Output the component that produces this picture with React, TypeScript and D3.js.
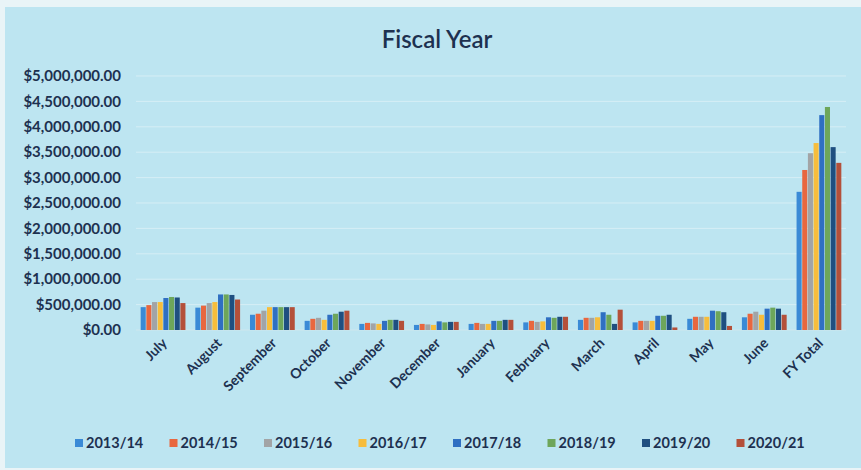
import React from "react";
import * as d3 from "d3";

const categories = ["July", "August", "September", "October", "November", "December", "January", "February", "March", "April", "May", "June", "FY Total"];
const seriesNames = ["2013/14", "2014/15", "2015/16", "2016/17", "2017/18", "2018/19", "2019/20", "2020/21"];
const seriesColors = ["#3a8ad6", "#e8673f", "#a2a4a6", "#f7bd3c", "#2f6fc2", "#6ea65a", "#1f4f80", "#b4503a"];

const s2013 = [450000, 440000, 300000, 180000, 120000, 100000, 120000, 150000, 200000, 150000, 220000, 250000, 2720000];
const s2014 = [490000, 480000, 320000, 220000, 140000, 120000, 140000, 180000, 240000, 180000, 260000, 320000, 3150000];
const s2015 = [550000, 530000, 380000, 240000, 130000, 110000, 120000, 160000, 240000, 180000, 260000, 360000, 3480000];
const s2016 = [550000, 550000, 450000, 200000, 120000, 100000, 120000, 170000, 250000, 180000, 260000, 300000, 3680000];
const s2017 = [630000, 700000, 450000, 300000, 180000, 170000, 180000, 250000, 350000, 280000, 380000, 420000, 4230000];
const s2018 = [650000, 700000, 450000, 320000, 200000, 150000, 180000, 240000, 300000, 280000, 370000, 440000, 4390000];
const s2019 = [640000, 690000, 450000, 360000, 200000, 160000, 200000, 260000, 120000, 300000, 350000, 420000, 3600000];
const s2020 = [530000, 600000, 450000, 380000, 180000, 160000, 200000, 260000, 400000, 50000, 80000, 300000, 3290000];
const seriesValues = [s2013, s2014, s2015, s2016, s2017, s2018, s2019, s2020];

const yTicks = [0, 500000, 1000000, 1500000, 2000000, 2500000, 3000000, 3500000, 4000000, 4500000, 5000000];

const W = 861, H = 470;
const plot = { left: 136, right: 846, top: 76, bottom: 330 };

export default function App() {
  const x = d3.scaleBand<string>().domain(categories).range([plot.left, plot.right]).paddingInner(0.17).paddingOuter(0.08);
  const xi = d3.scaleBand<string>().domain(seriesNames).range([0, x.bandwidth()]).padding(0);
  const y = d3.scaleLinear().domain([0, 5000000]).range([plot.bottom, plot.top]);
  const fmt = (v: number) => "$" + d3.format(",.2f")(v);
  const font = "Lato, 'Open Sans', sans-serif";
  const textColor = "#1d3150";
  const legendStart = 75, legendStep = 94.5;

  return (
    <svg width={W} height={H} style={{ position: "fixed", left: 0, top: 0, display: "block" }} fontFamily={font}>
      <rect x={0} y={0} width={W} height={H} fill="#e9f4f7" />
      <rect x={5} y={7} width={W - 5} height={H - 9} fill="#bde5f1" />
      <text x={437} y={48} textAnchor="middle" fontSize={24} fill={textColor} fontWeight={600}>Fiscal Year</text>
      {yTicks.map((t) => (
        <g key={t}>
          {t > 0 && <line x1={plot.left} x2={plot.right} y1={y(t)} y2={y(t)} stroke="#d6eef5" strokeWidth={1} />}
          <text x={121} y={y(t)} dy="0.35em" textAnchor="end" fontSize={15} fontWeight={700} fill={textColor}>{fmt(t)}</text>
        </g>
      ))}
      <line x1={plot.left} x2={plot.right} y1={y(0)} y2={y(0)} stroke="#cfe7ee" strokeWidth={1} />
      {seriesValues.map((vals, si) => (
        <g key={seriesNames[si]} fill={seriesColors[si]}>
          {vals.map((v, ci) => (
            <rect key={ci} x={(x(categories[ci]) ?? 0) + (xi(seriesNames[si]) ?? 0) + 0.3} y={y(v)} width={xi.bandwidth() - 0.6} height={y(0) - y(v)} />
          ))}
        </g>
      ))}
      {categories.map((c) => {
        const cx = (x(c) ?? 0) + x.bandwidth() / 2 + 5;
        return (
          <text key={c} transform={`translate(${cx},${344}) rotate(-45)`} textAnchor="end" fontSize={14} fontWeight={700} fill={textColor}>{c}</text>
        );
      })}
      {seriesNames.map((n, i) => (
        <g key={n} transform={`translate(${legendStart + i * legendStep},${443})`}>
          <rect x={0} y={-4} width={8} height={8} fill={seriesColors[i]} />
          <text x={11} y={0} dy="0.35em" fontSize={14.5} fontWeight={700} fill={textColor}>{n}</text>
        </g>
      ))}
    </svg>
  );
}
